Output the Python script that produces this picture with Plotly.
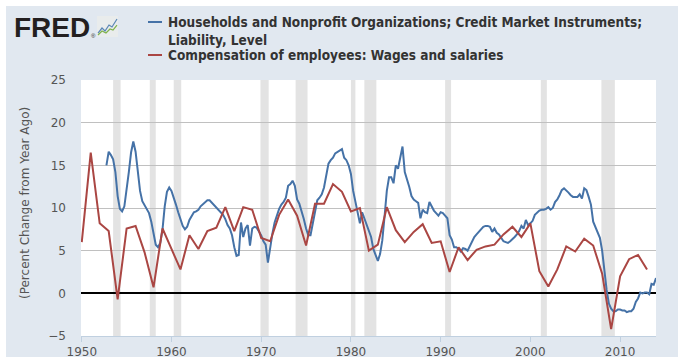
import plotly.graph_objects as go
import pandas as pd

# ---------------- data ----------------
red_name = "Compensation of employees: Wages and salaries"
blue_name = "Households and Nonprofit Organizations; Credit Market Instruments;<br>Liability, Level"

red_years = list(range(1950, 2014))
red_values = [
    6.0, 16.5, 8.2, 7.3, -0.7, 7.6, 7.9, 4.8, 0.7, 7.6,
    5.2, 2.8, 6.8, 5.2, 7.3, 7.7, 10.1, 7.3, 10.1, 9.8,
    6.5, 6.1, 9.2, 11.0, 9.1, 5.6, 10.5, 10.5, 12.8, 11.9,
    9.6, 10.0, 5.0, 5.7, 10.1, 7.4, 6.0, 7.2, 8.1, 5.9,
    6.1, 2.5, 5.4, 3.9, 5.1, 5.5, 5.7, 6.9, 7.8, 6.6,
    8.2, 2.6, 0.8, 2.8, 5.5, 4.9, 6.4, 5.6, 2.3, -4.2,
    2.0, 4.0, 4.5, 2.8,
]

blue_start = "1952-10-01"
blue_values = [
    15.0,
    16.6, 16.2, 15.7, 14.2,   # 1953
    11.4, 9.9, 9.6, 10.2,     # 1954
    12.0, 14.2, 16.5, 17.8,   # 1955
    16.6, 14.4, 12.0, 10.8,   # 1956
    10.3, 9.9, 9.4, 8.4,      # 1957
    7.0, 5.7, 5.4, 5.9,       # 1958
    7.5, 10.2, 11.9, 12.4,    # 1959
    12.0, 11.3, 10.4, 9.5,    # 1960
    8.7, 7.9, 7.5, 7.8,       # 1961
    8.6, 9.1, 9.5, 9.6,       # 1962
    9.8, 10.2, 10.4, 10.6,    # 1963
    10.9, 10.9, 10.6, 10.4,   # 1964
    10.0, 9.7, 9.4, 9.2,      # 1965
    8.7, 8.0, 7.6, 6.8,       # 1966
    5.4, 4.4, 4.5, 8.3,       # 1967
    6.6, 7.6, 8.0, 5.6,       # 1968
    7.6, 7.8, 7.7, 7.3,       # 1969
    6.8, 6.1, 5.7, 3.6,       # 1970
    5.5, 7.0, 8.3, 9.2,       # 1971
    9.9, 10.4, 10.7, 11.2,    # 1972
    12.6, 12.8, 13.2, 12.6,   # 1973
    11.0, 10.5, 9.7, 8.7,     # 1974
    7.6, 6.8, 6.8, 8.3,       # 1975
    9.8, 10.9, 11.2, 11.6,    # 1976
    12.4, 14.0, 15.2, 15.6,   # 1977
    15.9, 16.4, 16.6, 16.8,   # 1978
    16.9, 15.9, 15.6, 15.0,   # 1979
    14.0, 12.0, 10.6, 9.3,    # 1980
    8.2, 9.5, 8.8, 8.1,       # 1981
    7.4, 6.6, 5.2, 4.6,       # 1982
    3.8, 4.6, 6.2, 9.0,       # 1983
    12.0, 13.6, 13.6, 12.9,   # 1984
    15.0, 14.6, 15.8, 17.2,   # 1985
    14.2, 13.4, 12.5, 11.4,   # 1986
    11.0, 10.8, 10.6, 8.8,    # 1987
    9.8, 9.5, 9.4, 10.7,      # 1988
    10.1, 9.7, 9.4, 9.1,      # 1989
    9.5, 9.4, 9.1, 8.8,       # 1990
    6.8, 6.3, 5.4, 5.4,       # 1991
    5.2, 4.9, 5.3, 5.2,       # 1992
    5.0, 5.6, 6.1, 6.6,       # 1993
    6.9, 7.2, 7.6, 7.8,       # 1994
    7.9, 7.9, 7.8, 7.2,       # 1995
    7.6, 7.1, 6.9, 6.5,       # 1996
    6.1, 6.0, 5.9, 6.1,       # 1997
    6.3, 6.6, 6.9, 7.3,       # 1998
    7.9, 7.6, 8.6, 8.0,       # 1999
    8.2, 8.5, 9.2, 9.5,       # 2000
    9.7, 9.8, 9.8, 9.9,       # 2001
    10.1, 9.8, 10.0, 10.7,    # 2002
    11.0, 11.5, 12.1, 12.3,   # 2003
    12.1, 11.8, 11.5, 11.3,   # 2004
    11.3, 11.3, 11.6, 11.1,   # 2005
    12.3, 12.1, 11.3, 10.4,   # 2006
    8.4, 7.7, 7.2, 6.5,       # 2007
    5.0, 2.5, 0.4, -1.2,      # 2008
    -1.8, -2.1, -2.1, -1.9,   # 2009
    -1.9, -2.0, -2.0, -2.2,   # 2010
    -2.1, -2.1, -1.8, -1.0,   # 2011
    -0.6, 0.1, 0.0, 0.1,      # 2012
    0.1, -0.1, 1.1, 1.0,      # 2013
    1.8,                      # 2014
]

recession_starts = ["1953-07-01", "1957-08-01", "1960-04-01", "1969-12-01", "1973-11-01",
                    "1980-01-01", "1981-07-01", "1990-07-01", "2001-03-01", "2007-12-01"]
recession_ends = ["1954-05-01", "1958-04-01", "1961-02-01", "1970-11-01", "1975-03-01",
                  "1980-07-01", "1982-11-01", "1991-03-01", "2001-11-01", "2009-06-01"]

y_ticks = [-5, 0, 5, 10, 15, 20, 25]
x_tick_years = [1950, 1960, 1970, 1980, 1990, 2000, 2010]

# ---------------- layout geometry ----------------
FW, FH = 684, 362
L, R, T, B = 81, 656, 80, 336
W, H = R - L, B - T


def PX(x):
    return (x - L) / W


def PY(y):
    return (B - y) / H


BLUE = "#4572a7"
RED = "#aa4643"
PANEL = "#e1e8f0"
LEGEND_FONT = "DejaVu Sans Condensed, Liberation Sans Narrow, DejaVu Sans"

blue_dates = pd.date_range(blue_start, periods=len(blue_values), freq="QS")
red_dates = [f"{y}-01-01" for y in red_years]

fig = go.Figure()
fig.add_trace(go.Scatter(x=blue_dates, y=blue_values, mode="lines",
                         line=dict(color=BLUE, width=2), name=blue_name,
                         showlegend=False))
fig.add_trace(go.Scatter(x=red_dates, y=red_values, mode="lines",
                         line=dict(color=RED, width=2), name=red_name,
                         showlegend=False))

shapes = []
shapes.append(dict(type="rect", xref="paper", yref="paper", layer="below",
                   x0=PX(6), x1=PX(678), y0=PY(357), y1=PY(6),
                   fillcolor=PANEL, line=dict(width=0)))
shapes.append(dict(type="rect", xref="paper", yref="paper", layer="below",
                   x0=0, x1=1, y0=0, y1=1,
                   fillcolor="white", line=dict(width=0)))
for s, e in zip(recession_starts, recession_ends):
    shapes.append(dict(type="rect", xref="x", yref="paper", layer="below",
                       x0=s, x1=e, y0=0, y1=1,
                       fillcolor="#e3e3e3", line=dict(width=0)))

# FRED icon
shapes.append(dict(type="rect", xref="paper", yref="paper", layer="above",
                   x0=PX(97), x1=PX(118), y0=PY(37), y1=PY(16),
                   fillcolor="#e9ecec", line=dict(width=0)))


def path(pts):
    return "M " + " L ".join(f"{PX(a):.5f},{PY(b):.5f}" for a, b in pts)


shapes.append(dict(type="path", xref="paper", yref="paper", layer="above",
                   path=path([(98, 33), (102, 28), (105, 31), (109, 25), (112, 27), (117, 19)]),
                   line=dict(color="#5a86b5", width=1.2)))
shapes.append(dict(type="path", xref="paper", yref="paper", layer="above",
                   path=path([(98, 35), (102, 31), (106, 33), (110, 29), (113, 30), (117, 25)]),
                   line=dict(color="#7fb24a", width=1.2)))

# legend samples
shapes.append(dict(type="line", xref="paper", yref="paper", layer="above",
                   x0=PX(148), x1=PX(162), y0=PY(22), y1=PY(22),
                   line=dict(color=BLUE, width=2)))
shapes.append(dict(type="line", xref="paper", yref="paper", layer="above",
                   x0=PX(148), x1=PX(162), y0=PY(55), y1=PY(55),
                   line=dict(color=RED, width=2)))

annotations = []
annotations.append(dict(xref="paper", yref="paper", x=PX(12), y=PY(27),
                        xanchor="left", yanchor="middle", showarrow=False,
                        text="<b>FRED</b>",
                        font=dict(family="Liberation Sans", size=28, color="#231f20")))
annotations.append(dict(xref="paper", yref="paper", x=PX(89), y=PY(36),
                        xanchor="left", yanchor="middle", showarrow=False,
                        text="®", font=dict(family="Liberation Sans", size=6, color="#231f20")))
annotations.append(dict(xref="paper", yref="paper", x=PX(166), y=PY(30.5),
                        xanchor="left", yanchor="middle", showarrow=False, align="left",
                        text="<b>" + blue_name.replace("<br>", "</b><br><b>") + "</b>",
                        font=dict(family=LEGEND_FONT, size=13.5, color="#333333")))
annotations.append(dict(xref="paper", yref="paper", x=PX(166), y=PY(55),
                        xanchor="left", yanchor="middle", showarrow=False, align="left",
                        text="<b>" + red_name + "</b>",
                        font=dict(family=LEGEND_FONT, size=13.5, color="#333333")))
annotations.append(dict(xref="paper", yref="paper", x=PX(25), y=PY(203),
                        xanchor="center", yanchor="middle", showarrow=False,
                        textangle=-90, text="(Percent Change from Year Ago)",
                        font=dict(family="DejaVu Sans", size=12, color="#555555")))

fig.update_layout(
    width=FW, height=FH,
    margin=dict(l=L, r=FW - R, t=T, b=FH - B, pad=0),
    paper_bgcolor="white", plot_bgcolor="white",
    shapes=shapes, annotations=annotations,
    showlegend=False,
    font=dict(family="DejaVu Sans", size=12, color="#555555"),
)
fig.update_xaxes(
    type="date", range=["1949-12-01", "2014-01-01"],
    tickvals=[f"{y}-01-01" for y in x_tick_years],
    ticktext=[str(y) for y in x_tick_years],
    showgrid=False, showline=True, linecolor="#c0d0e0", linewidth=1,
    ticks="outside", ticklen=5, tickcolor="#c0d0e0",
    tickfont=dict(family="DejaVu Sans", size=12, color="#555555"),
    zeroline=False, fixedrange=True, automargin=False,
)
fig.update_yaxes(
    range=[-5, 25], tickvals=y_ticks,
    showgrid=True, gridcolor="#c0c0c0", gridwidth=1,
    zeroline=True, zerolinecolor="#000000", zerolinewidth=2,
    showline=False, ticks="", ticklabelstandoff=14, automargin=False,
    tickfont=dict(family="DejaVu Sans", size=12, color="#555555"),
)

fig.write_html("out.html", config={"displayModeBar": False},
               post_script="document.body.style.margin='0px';document.body.style.overflow='hidden';")
